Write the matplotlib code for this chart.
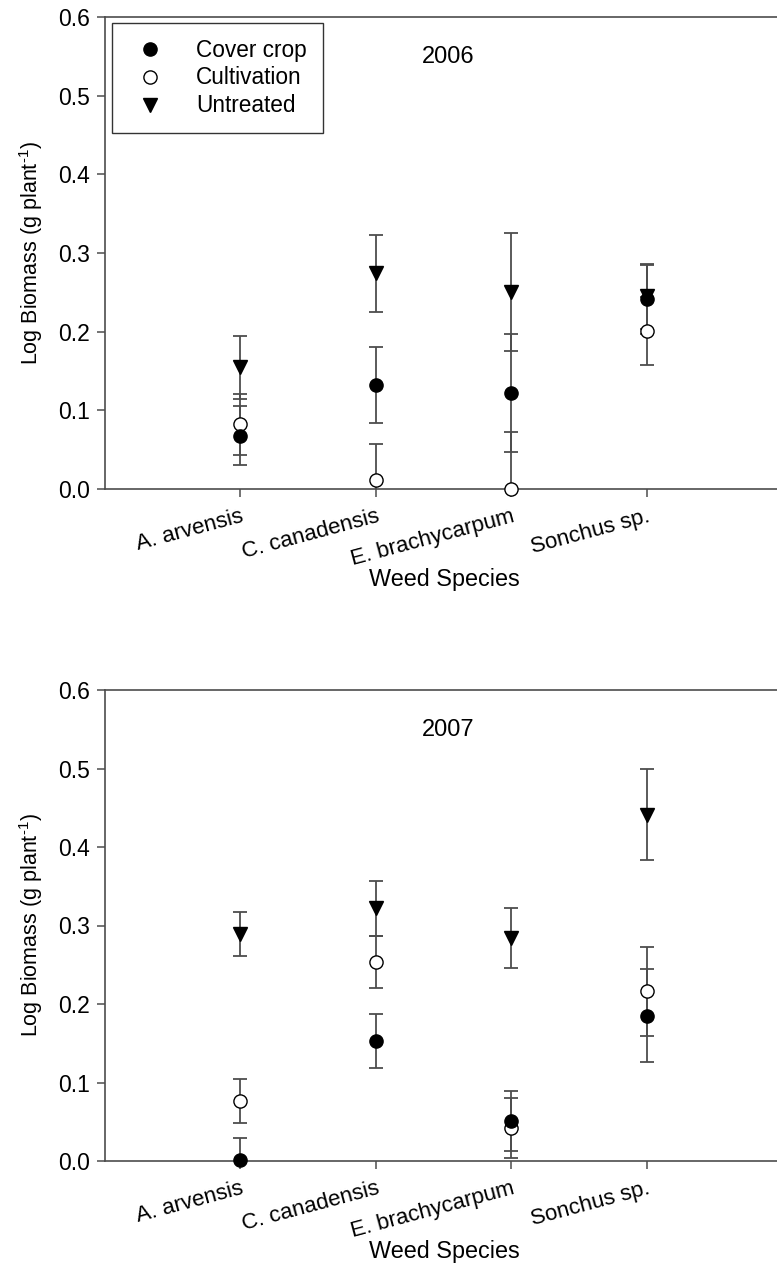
import matplotlib
matplotlib.use("Agg")
import matplotlib.pyplot as plt

"""Log biomass of weed species by treatment, 2006 and 2007"""

plt.rcParams['font.family'] = ['Liberation Sans', 'DejaVu Sans']
plt.rcParams['mathtext.fontset'] = 'custom'
plt.rcParams['mathtext.rm'] = 'Liberation Sans'
plt.rcParams['mathtext.it'] = 'Liberation Sans:italic'

species = ['A. arvensis', 'C. canadensis', 'E. brachycarpum', 'Sonchus sp.']
years = ['2006', '2007']

# values (mean, standard error)
cover_2006 = [0.068, 0.132, 0.122, 0.241]
cover_2006_err = [0.038, 0.048, 0.075, 0.044]
cult_2006 = [0.082, 0.011, 0.000, 0.201]
cult_2006_err = [0.039, 0.046, 0.073, 0.043]
untr_2006 = [0.155, 0.274, 0.250, 0.245]
untr_2006_err = [0.040, 0.049, 0.075, 0.041]

cover_2007 = [0.001, 0.153, 0.051, 0.185]
cover_2007_err = [0.028, 0.034, 0.038, 0.059]
cult_2007 = [0.077, 0.254, 0.042, 0.216]
cult_2007_err = [0.028, 0.033, 0.038, 0.057]
untr_2007 = [0.289, 0.322, 0.284, 0.441]
untr_2007_err = [0.028, 0.035, 0.038, 0.058]


def draw_panel(ax, year, cover, cover_err, cult, cult_err, untr, untr_err, legend):
    x = list(range(1, len(species) + 1))
    series = [
        (untr, untr_err, 'v', 'black', 'Untreated'),
        (cult, cult_err, 'o', 'white', 'Cultivation'),
        (cover, cover_err, 'o', 'black', 'Cover crop'),
    ]
    handles = {}
    for vals, errs, mk, fc, name in series:
        ax.errorbar(x, vals, yerr=errs, fmt='none', ecolor='0.3', elinewidth=1.3,
                    capsize=5, capthick=1.3, zorder=2)
    for vals, errs, mk, fc, name in series:
        h, = ax.plot(x, vals, linestyle='none', marker=mk, markersize=9.5 if mk == 'o' else 10,
                     markerfacecolor=fc, markeredgecolor='black', markeredgewidth=1.0,
                     clip_on=False, zorder=3, label=name)
        handles[name] = h

    ax.set_xlim(0, 4.96)
    ax.set_ylim(0, 0.6)
    ax.set_xticks(x)
    ax.set_xticklabels(species, rotation=15, ha='right', va='top', rotation_mode='anchor')
    ax.set_yticks([0.0, 0.1, 0.2, 0.3, 0.4, 0.5, 0.6])
    ax.set_yticklabels(['0.0', '0.1', '0.2', '0.3', '0.4', '0.5', '0.6'])
    ax.tick_params(axis='both', labelsize=16, direction='out', length=6, width=1.1,
                   color='0.3', pad=6)
    ax.tick_params(axis='y', labelsize=16.5, pad=5)
    ax.spines['right'].set_visible(False)
    for s in ['left', 'top', 'bottom']:
        ax.spines[s].set_color('0.3')
        ax.spines[s].set_linewidth(1.2)
    ax.set_xlabel('Weed Species', fontsize=16.8)
    ax.xaxis.set_label_coords(0.505, -0.168)
    ax.set_ylabel(r'Log Biomass (g plant$^{\text{-}1}$)', fontsize=15.5, labelpad=9)
    ax.text(0.51, 0.915, year, transform=ax.transAxes, fontsize=17, ha='center', va='center')

    if legend:
        leg = ax.legend([handles['Cover crop'], handles['Cultivation'], handles['Untreated']],
                        ['Cover crop', 'Cultivation', 'Untreated'],
                        loc='upper left', bbox_to_anchor=(0.011, 0.988), fontsize=16.3,
                        frameon=True, fancybox=False, borderpad=0.7, handletextpad=1.1,
                        labelspacing=0.22, handlelength=1.9, borderaxespad=0)
        leg.get_frame().set_edgecolor('black')
        leg.get_frame().set_linewidth(1.0)


fig = plt.figure(figsize=(7.77, 12.66), dpi=100)
ax1 = fig.add_axes([105 / 777, 1 - 489 / 1266, 1 - 105 / 777, 472 / 1266])
ax2 = fig.add_axes([105 / 777, 1 - 1161 / 1266, 1 - 105 / 777, 471 / 1266])

draw_panel(ax1, years[0], cover_2006, cover_2006_err, cult_2006, cult_2006_err,
           untr_2006, untr_2006_err, legend=True)
draw_panel(ax2, years[1], cover_2007, cover_2007_err, cult_2007, cult_2007_err,
           untr_2007, untr_2007_err, legend=False)

fig.savefig('out.png', dpi=100)
